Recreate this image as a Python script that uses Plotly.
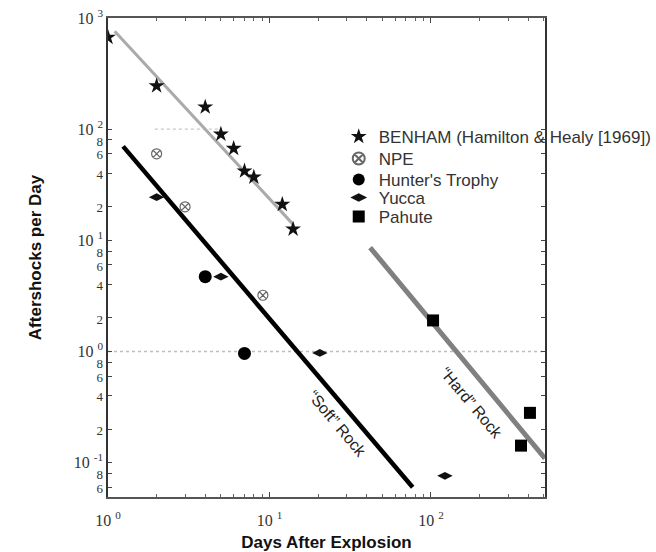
import math
import plotly.graph_objects as go

# ---- data ----
benham_x = [1, 2, 4, 5, 6, 7, 8, 12, 14]
benham_y = [670, 245, 158, 90, 67, 42, 37, 21, 12.6]
npe_x = [2, 3, 9.1]
npe_y = [60, 20, 3.2]
hunter_x = [4, 7]
hunter_y = [4.7, 0.96]
yucca_x = [2, 5, 20.5, 122]
yucca_y = [24.4, 4.7, 0.97, 0.076]
pahute_x = [103, 410, 361]
pahute_y = [1.9, 0.28, 0.142]

benham_fit_x = [1.1, 14]
benham_fit_y = [760, 13.9]
soft_x = [1.24, 77]
soft_y = [70, 0.06]
hard_x = [42, 508]
hard_y = [8.6, 0.109]

x_tickvals = [1, 10, 100]
x_ticktext = ["10 <sup>0</sup>", "10 <sup>1</sup>", "10 <sup>2</sup>"]
y_tickvals = [0.06, 0.08, 0.1, 0.2, 0.4, 0.6, 0.8, 1, 2, 4, 6, 8, 10,
              20, 40, 60, 80, 100, 1000]
y_ticklabels = ["6", "8", "10 <sup>-1</sup>", "2", "4", "6", "8", "10 <sup>0</sup>",
                "2", "4", "6", "8", "10 <sup>1</sup>", "2", "4", "6", "8",
                "10 <sup>2</sup>", "10 <sup>3</sup>"]

XR = [0, 2.706]
YR = [-1.31, 3.0]

sans = "Liberation Sans, Arial, sans-serif"
serif = "Liberation Serif, Times New Roman, serif"

# minor (mantissa) labels drawn a little smaller than the decade labels
y_ticktext = [t if "10" in t else '<span style="font-size:13px">%s</span>' % t
              for t in y_ticklabels]

fig = go.Figure()

# fit lines
fig.add_trace(go.Scatter(x=benham_fit_x, y=benham_fit_y, mode="lines",
                         line=dict(color="#aaaaaa", width=3), showlegend=False,
                         hoverinfo="skip"))
fig.add_trace(go.Scatter(x=soft_x, y=soft_y, mode="lines",
                         line=dict(color="#000000", width=4.5), showlegend=False,
                         hoverinfo="skip"))
fig.add_trace(go.Scatter(x=hard_x, y=hard_y, mode="lines",
                         line=dict(color="#808080", width=5), showlegend=False,
                         hoverinfo="skip"))

# data points (each in its own legend so row spacing can match the original)
fig.add_trace(go.Scatter(x=benham_x, y=benham_y, mode="markers",
                         name="BENHAM (Hamilton & Healy [1969])", legend="legend",
                         marker=dict(symbol="star", size=12, color="#111111")))
fig.add_trace(go.Scatter(x=npe_x, y=npe_y, mode="markers", name="NPE", legend="legend2",
                         marker=dict(symbol="circle-x-open", size=10, color="#666666",
                                     line=dict(width=1.2, color="#666666"))))
fig.add_trace(go.Scatter(x=hunter_x, y=hunter_y, mode="markers", name="Hunter's Trophy",
                         legend="legend3",
                         marker=dict(symbol="circle", size=13, color="#000000")))
fig.add_trace(go.Scatter(x=yucca_x, y=yucca_y, mode="markers", name="Yucca",
                         legend="legend4",
                         marker=dict(symbol="diamond-wide", size=11, color="#111111")))
fig.add_trace(go.Scatter(x=pahute_x, y=pahute_y, mode="markers", name="Pahute",
                         legend="legend5",
                         marker=dict(symbol="square", size=12, color="#000000")))

# faint dotted reference lines (as in the scanned original)
def yfrac(v):
    return (math.log10(v) - YR[0]) / (YR[1] - YR[0])

def xfrac(v):
    return (math.log10(v) - XR[0]) / (XR[1] - XR[0])

fig.add_shape(type="line", xref="x domain", x0=0, x1=1, yref="y domain",
              y0=yfrac(1), y1=yfrac(1),
              line=dict(color="#bdbdbd", width=1.5, dash="dot"), layer="below")
fig.add_shape(type="line", xref="x domain", x0=xfrac(1.95), x1=xfrac(4.8),
              yref="y domain", y0=yfrac(100), y1=yfrac(100),
              line=dict(color="#c8c8c8", width=1.2, dash="dot"), layer="below")

# line labels
fig.add_annotation(text="\u201cSoft\u201d Rock", x=math.log10(26.2), y=math.log10(0.225),
                   xref="x", yref="y", showarrow=False, textangle=50,
                   font=dict(family=sans, size=16, color="#222222"))
fig.add_annotation(text="\u201cHard\u201d Rock", x=math.log10(177), y=math.log10(0.347),
                   xref="x", yref="y", showarrow=False, textangle=50,
                   font=dict(family=sans, size=16, color="#222222"))

fig.update_xaxes(type="log", range=XR, automargin=False,
                 tickvals=x_tickvals, ticktext=x_ticktext,
                 tickfont=dict(family=serif, size=16, color="#333333"),
                 ticks="inside", ticklen=5, tickcolor="#444444",
                 ticklabelstandoff=8,
                 minor=dict(ticks="inside", ticklen=3, tickcolor="#666666",
                            tickvals=[2, 3, 4, 5, 6, 7, 8, 9, 20, 30, 40, 50, 60, 70, 80, 90,
                                      200, 300, 400, 500]),
                 showline=True, linecolor="#555555", linewidth=1.5, mirror="allticks",
                 showgrid=False, zeroline=False,
                 title=dict(text="<b>Days After Explosion</b>", standoff=12,
                            font=dict(family=sans, size=17, color="#111111")))
fig.update_yaxes(type="log", range=YR, automargin=False,
                 tickvals=y_tickvals, ticktext=y_ticktext,
                 tickfont=dict(family=serif, size=16, color="#333333"),
                 ticks="inside", ticklen=4, tickcolor="#444444",
                 showline=True, linecolor="#333333", linewidth=1.5, mirror="allticks",
                 showgrid=False, zeroline=False,
                 title=dict(text="<b>Aftershocks per Day</b>", standoff=28,
                            font=dict(family=sans, size=17, color="#111111")))

row_y = [137, 159, 180, 198, 217]
plot_top, plot_bot = 18, 497
legend_x = 0.528
leg_common = dict(x=legend_x, xanchor="left", yanchor="middle",
                  bgcolor="rgba(0,0,0,0)", borderwidth=0,
                  font=dict(family=sans, size=17, color="#333333"),
                  itemsizing="constant")
legends = {}
for i, py in enumerate(row_y):
    key = "legend" if i == 0 else "legend%d" % (i + 1)
    legends[key] = dict(leg_common, y=(plot_bot - py) / (plot_bot - plot_top))

fig.update_layout(
    width=656, height=552,
    margin=dict(l=108, r=111, t=18, b=55, autoexpand=False),
    paper_bgcolor="white", plot_bgcolor="white",
    showlegend=True,
    **legends,
)

fig.write_html("out.html")
